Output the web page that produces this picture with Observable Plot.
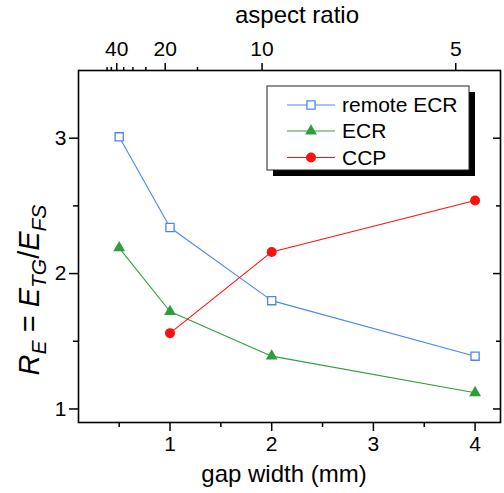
<!DOCTYPE html>
<html>
<head>
<meta charset="utf-8">
<script src="https://cdn.jsdelivr.net/npm/d3@7"></script>
<script src="https://cdn.jsdelivr.net/npm/@observablehq/plot@0.6"></script>
<style>
  html, body { margin: 0; padding: 0; background: #fff; }
  #chart svg { display: block; }
</style>
</head>
<body>
<div id="chart"></div>
<script>
// Gap widths (mm) at which each configuration was measured
const gapWidth = [0.5, 1, 2, 4];
const remoteEcrValues = [3.01, 2.34, 1.80, 1.39];
const ecrValues = [2.19, 1.72, 1.39, 1.12];
const ccpGap = [1, 2, 4];
const ccpValues = [1.56, 2.16, 2.54];

const seriesNames = ["remote ECR", "ECR", "CCP"];
const seriesColors = ["#4a86f0", "#2e9e3c", "#ff1010"];
const seriesSymbols = ["square", "triangle", "circle"];

// Bottom axis ticks (gap width)
const gapTicks = [1, 2, 3, 4];
const gapMinorTicks = [0.5, 1.5, 2.5, 3.5];
// Left/right axis ticks (field ratio)
const ratioTicks = [1, 2, 3];
const ratioMinorTicks = [1.5, 2.5];
// Top axis: aspect ratio = plate thickness / gap width
const thickness = 19.05; // mm (0.75 in)
const aspectTicks = [40, 20, 10, 5];
const aspectMinorTicks = [50, 45, 35, 30, 25, 15];

const rows = [
  ...gapWidth.map((g, i) => ({series: "remote ECR", gap: g, value: remoteEcrValues[i]})),
  ...gapWidth.map((g, i) => ({series: "ECR", gap: g, value: ecrValues[i]})),
  ...ccpGap.map((g, i) => ({series: "CCP", gap: g, value: ccpValues[i]}))
];
const bySeries = name => rows.filter(d => d.series === name);

const font = "'Liberation Sans', Arial, Helvetica, sans-serif";
const plain = d => String(d);

const plot = Plot.plot({
  width: 504,
  height: 493,
  marginLeft: 78,
  marginRight: 4,
  marginTop: 70,
  marginBottom: 71,
  x: {domain: [0.1, 4.25]},
  y: {domain: [0.9, 3.5]},
  color: {domain: seriesNames, range: seriesColors},
  style: {fontFamily: font, fontSize: "21px", color: "#000", background: "#fff"},
  marks: [
    // bottom axis: gap width
    Plot.axisX({ticks: gapTicks, tickFormat: plain, tickSize: 9, tickPadding: 5, strokeWidth: 1.5, label: null, fontSize: 21}),
    Plot.axisX({ticks: gapMinorTicks, tickSize: 5, strokeWidth: 1.5, text: null, label: null}),
    // top axis: aspect ratio (reciprocal of gap width)
    Plot.axisX({
      anchor: "top",
      ticks: aspectTicks.map(a => thickness / a),
      tickFormat: d => String(Math.round(thickness / d)),
      tickSize: 8, tickPadding: 7, strokeWidth: 1.5, label: null, fontSize: 21
    }),
    Plot.axisX({anchor: "top", ticks: aspectMinorTicks.map(a => thickness / a), tickSize: 4, strokeWidth: 1.5, text: null, label: null}),
    // left axis
    Plot.axisY({ticks: ratioTicks, tickFormat: plain, tickSize: 9, tickPadding: 3, strokeWidth: 1.5, label: null, fontSize: 21}),
    Plot.axisY({ticks: ratioMinorTicks, tickSize: 5, strokeWidth: 1.5, text: null, label: null}),
    // right axis: inward ticks only
    Plot.axisY({anchor: "right", ticks: ratioTicks, tickSize: -8, strokeWidth: 1.5, text: null, label: null}),
    Plot.axisY({anchor: "right", ticks: ratioMinorTicks, tickSize: -5, strokeWidth: 1.5, text: null, label: null}),
    Plot.frame({stroke: "#000", strokeWidth: 1.6}),
    // series lines
    Plot.line(rows, {x: "gap", y: "value", z: "series", stroke: "series", strokeWidth: 1.1}),
    // markers
    Plot.dot(bySeries("remote ECR"), {x: "gap", y: "value", symbol: "square", r: 4.6, stroke: seriesColors[0], fill: "#fff", strokeWidth: 1.3}),
    Plot.dot(bySeries("ECR"), {x: "gap", y: "value", symbol: "triangle", r: 4.4, fill: seriesColors[1], stroke: "none"}),
    Plot.dot(bySeries("CCP"), {x: "gap", y: "value", symbol: "circle", r: 5, fill: seriesColors[2], stroke: "none"})
  ]
});

document.getElementById("chart").appendChild(plot);

// Axis titles and legend
const svg = d3.select(plot);

svg.append("text")
  .attr("x", 297).attr("y", 23)
  .attr("text-anchor", "middle")
  .style("font-family", font).style("font-size", "24px").attr("fill", "#000")
  .text("aspect ratio");

svg.append("text")
  .attr("x", 284).attr("y", 482)
  .attr("text-anchor", "middle")
  .style("font-family", font).style("font-size", "24px").attr("fill", "#000")
  .text("gap width (mm)");

// y title: R_E = E_TG / E_FS
const yTitle = svg.append("text")
  .attr("transform", "translate(39,290) rotate(-90)")
  .attr("text-anchor", "middle")
  .style("font-family", font).style("font-size", "29px").attr("fill", "#000");
const parts = [
  {t: "R", i: true}, {t: "E", i: true, sub: true},
  {t: " = ", i: false},
  {t: "E", i: true}, {t: "TG", i: true, sub: true},
  {t: "/", i: false},
  {t: "E", i: true}, {t: "FS", i: true, sub: true}
];
let prevSub = false;
for (const p of parts) {
  const ts = yTitle.append("tspan").text(p.t)
    .style("font-style", p.i ? "italic" : "normal");
  if (p.sub) ts.attr("dy", prevSub ? 0 : 7).style("font-size", "21px");
  else if (prevSub) ts.attr("dy", -7);
  prevSub = !!p.sub;
}

// legend
const legend = svg.append("g").attr("text-anchor", "start");
legend.append("rect").attr("x", 273).attr("y", 92).attr("width", 202).attr("height", 84).attr("fill", "#000");
legend.append("rect").attr("x", 267).attr("y", 86).attr("width", 202).attr("height", 84)
  .attr("fill", "#fff").attr("stroke", "#222").attr("stroke-width", 1);
const legendRowY = [105, 131, 157.5];
seriesNames.forEach((name, i) => {
  const y = legendRowY[i];
  const g = legend.append("g");
  g.append("line").attr("x1", 287).attr("x2", 335).attr("y1", y).attr("y2", y)
    .attr("stroke", seriesColors[i]).attr("stroke-width", 1.1);
  const sym = seriesSymbols[i] === "square" ? d3.symbolSquare : seriesSymbols[i] === "triangle" ? d3.symbolTriangle : d3.symbolCircle;
  const r = [4.6, 4.4, 5][i];
  const path = g.append("path").attr("d", d3.symbol(sym, Math.PI * r * r)())
    .attr("transform", `translate(311,${y})`);
  if (i === 0) path.attr("fill", "#fff").attr("stroke", seriesColors[i]).attr("stroke-width", 1.3);
  else path.attr("fill", seriesColors[i]);
  g.append("text").attr("x", 342).attr("y", y).attr("dy", "0.35em")
    .attr("text-anchor", "start")
    .style("font-family", font).style("font-size", "21px").attr("fill", "#000")
    .text(name);
});
</script>
</body>
</html>
